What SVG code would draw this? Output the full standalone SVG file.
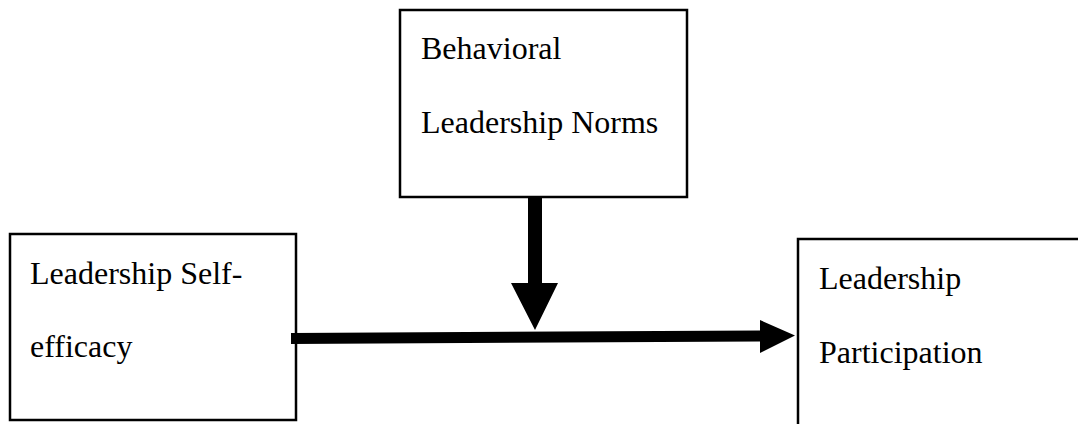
<svg xmlns="http://www.w3.org/2000/svg" width="1078" height="424" viewBox="0 0 1078 424">
<style>
.box{fill:#fff;stroke:#000;stroke-width:2.5}
.t{font-family:"Liberation Serif","Times New Roman",serif;font-size:32px;fill:#000}
.arr{fill:#000;stroke:none}
</style>
<rect width="1078" height="424" fill="#fff"/>
<g id="node-norms">
<rect class="box" x="400" y="10" width="287" height="187"/>
<text class="t" x="421" y="59">Behavioral</text>
<text class="t" x="421" y="133">Leadership Norms</text>
</g>
<g id="node-selfefficacy">
<rect class="box" x="10" y="234" width="286" height="186"/>
<text class="t" x="30" y="284">Leadership Self-</text>
<text class="t" x="30" y="357">efficacy</text>
</g>
<g id="node-participation">
<rect class="box" x="798" y="239" width="300" height="200"/>
<text class="t" x="819" y="289">Leadership</text>
<text class="t" x="819" y="363">Participation</text>
</g>
<g id="connectors">
<polygon class="arr" points="291,333 760,330.5 760,320 795,335.5 760,353 760,341.5 291,344"/>
<polygon class="arr" points="528,197 542,197 542,283 558,283 535,330 511,283 528,283"/>
</g>
</svg>
